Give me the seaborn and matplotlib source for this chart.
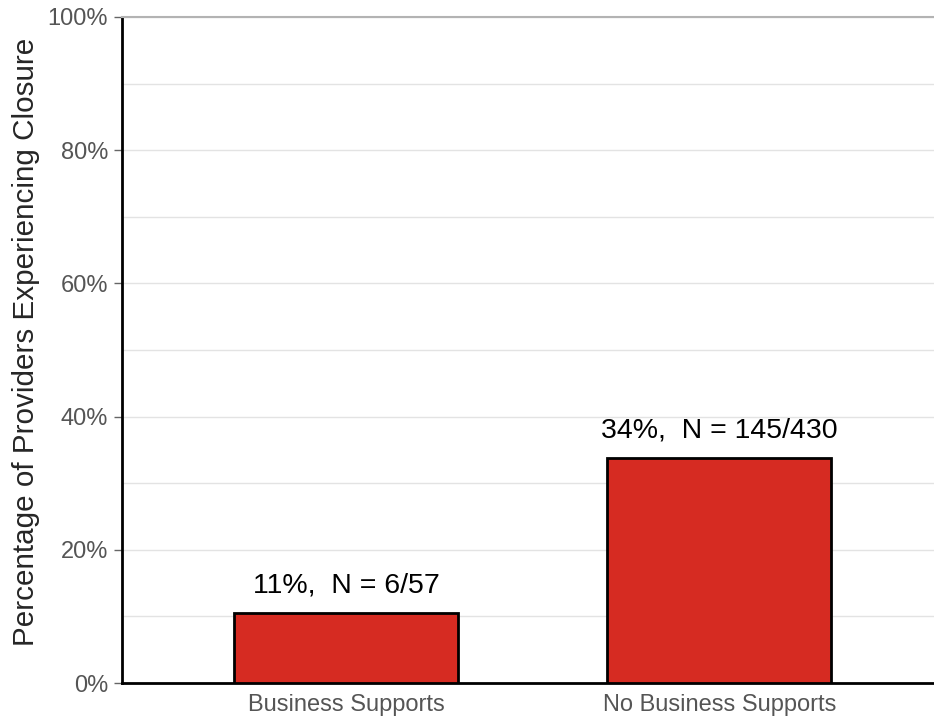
import numpy as np
import matplotlib
matplotlib.use("Agg")
import matplotlib.pyplot as plt
import seaborn as sns
import pandas as pd
from matplotlib.ticker import MultipleLocator, PercentFormatter

# data
groups = ["Business Supports", "No Business Supports"]
closed = [6, 145]
totals = [57, 430]
pct = [100 * c / t for c, t in zip(closed, totals)]

df = pd.DataFrame({"group": groups, "pct": pct})

sns.set_theme(style="white")
plt.rcParams['font.family'] = ['Liberation Sans', 'DejaVu Sans']

fig = plt.figure(figsize=(9.34, 7.19), dpi=100)
ax = fig.add_axes([0.1306, 0.050, 0.8694, 0.9264])

sns.barplot(data=df, x="group", y="pct", color="#d62b22", saturation=1,
            width=0.6, edgecolor="black", linewidth=2, ax=ax, zorder=3)

for i, (p, c, t) in enumerate(zip(pct, closed, totals)):
    ax.text(i, p + 2.2, f"{round(p):.0f}%,  N = {c}/{t}", ha="center", va="bottom",
            fontsize=20.5, color="black")

ax.set_xlim(-0.6, 1.575)
ax.set_ylim(0, 100)
ax.yaxis.set_major_locator(MultipleLocator(20))
ax.yaxis.set_minor_locator(MultipleLocator(10))
ax.yaxis.set_major_formatter(PercentFormatter(decimals=0))
ax.grid(axis="y", which="both", color="#e3e3e3", linewidth=1, zorder=0)
ax.set_axisbelow(True)

ax.spines["right"].set_visible(False)
ax.spines["top"].set_color("#b3b3b3")
ax.spines["top"].set_linewidth(1.5)
ax.spines["left"].set_color("black")
ax.spines["left"].set_linewidth(2)
ax.spines["bottom"].set_color("black")
ax.spines["bottom"].set_linewidth(2)

ax.tick_params(axis="y", which="major", length=6, width=1, color="#666666",
               labelsize=17, labelcolor="#555555", left=True, pad=4)
ax.tick_params(axis="y", which="minor", length=0)
ax.tick_params(axis="x", length=0, labelsize=17, labelcolor="#555555", pad=8)

ax.set_xlabel("")
ax.set_ylabel("Percentage of Providers Experiencing Closure", fontsize=21.3)
ax.yaxis.set_label_coords(-0.101, 0.512)

fig.savefig("out.png", dpi=100)
